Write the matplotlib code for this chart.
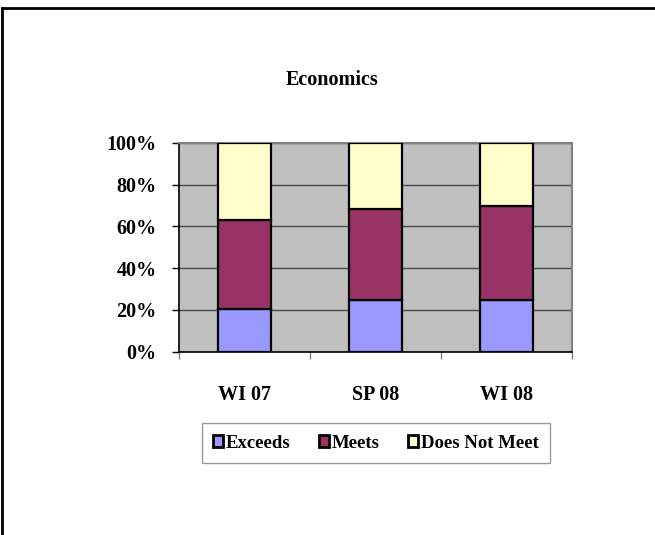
import matplotlib
matplotlib.use("Agg")
import matplotlib.pyplot as plt
import numpy as np
from matplotlib.lines import Line2D
from matplotlib.patches import Patch

categories = ["WI 07", "SP 08", "WI 08"]
exceeds = [20.5, 24.5, 24.5]
meets = [42.4, 43.8, 45.3]
does_not_meet = [37.1, 31.7, 30.2]
series_names = ["Exceeds", "Meets", "Does Not Meet"]
colors = ["#9999FF", "#993366", "#FFFFCC"]
yticks = [0, 20, 40, 60, 80, 100]
ytick_labels = ["0%", "20%", "40%", "60%", "80%", "100%"]

plt.rcParams['font.family'] = ['Liberation Serif', 'DejaVu Serif']
plt.rcParams['font.weight'] = 'bold'

W, H = 655, 535
fig = plt.figure(figsize=(W / 100, H / 100), dpi=100)
ax = fig.add_axes([179 / W, 1 - 351.7 / H, (572 - 179) / W, (351.7 - 142.7) / H])
ax.set_facecolor("#C0C0C0")

x = np.arange(len(categories))
bottom = np.zeros(len(categories))
for vals, name, c in zip([exceeds, meets, does_not_meet], series_names, colors):
    ax.bar(x, vals, width=0.4, bottom=bottom, color=c, edgecolor="black",
           linewidth=1.6, label=name, zorder=3)
    bottom += np.array(vals)

ax.set_xlim(-0.5, 2.5)
ax.set_ylim(0, 100)
ax.set_yticks(yticks)
ax.set_yticklabels(ytick_labels, fontsize=14.5, fontweight='bold')
ax.yaxis.grid(True, color="#4a4a4a", linewidth=1.0, zorder=1)
ax.set_axisbelow(True)
ax.tick_params(axis='y', direction='out', length=5, width=1, color='black', pad=11)

ax.set_xticks(x)
ax.set_xticklabels(categories, fontsize=14.5, fontweight='bold')
ax.tick_params(axis='x', which='major', length=0, pad=24)
ax.set_xticks([-0.5, 0.5, 1.5, 2.5], minor=True)
ax.tick_params(axis='x', which='minor', direction='out', length=5, width=1, color='#808080')

for side in ['top', 'right']:
    ax.spines[side].set_color('#808080')
    ax.spines[side].set_linewidth(1.5)
for side in ['left', 'bottom']:
    ax.spines[side].set_color('black')
    ax.spines[side].set_linewidth(1.2)

fig.text(332 / W, 1 - 80 / H, "Economics", ha='center', va='center',
         fontsize=14.5, fontweight='bold')

handles = [Patch(facecolor=c, edgecolor='black', linewidth=2.0) for c in colors]
leg = fig.legend(handles, series_names, loc='center', bbox_to_anchor=(376 / W, 1 - 443 / H),
                 ncol=3, frameon=True, fancybox=False, handlelength=0.55,
                 handleheight=0.6, handletextpad=0.15, columnspacing=1.5,
                 borderpad=0.6, borderaxespad=0, prop={'weight': 'bold', 'size': 13.5})
leg.get_frame().set_edgecolor('#808080')
leg.get_frame().set_linewidth(1.0)

fig.add_artist(Line2D([1.5 / W, 1.5 / W], [0, 1 - 8 / H], color='black', linewidth=2,
                      transform=fig.transFigure))
fig.add_artist(Line2D([1.5 / W, 1], [1 - 8 / H, 1 - 8 / H], color='black', linewidth=2,
                      transform=fig.transFigure))

fig.savefig("out.png", dpi=100, facecolor='white')
